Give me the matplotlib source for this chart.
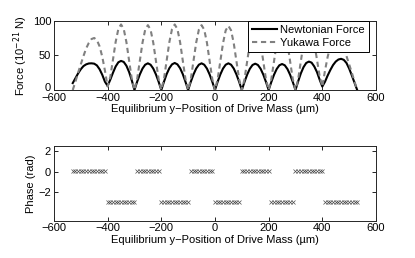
import matplotlib
matplotlib.use("Agg")
import matplotlib.pyplot as plt
import matplotlib.transforms as mtransforms

plt.rcParams["font.family"] = ["Liberation Sans", "DejaVu Sans"]
plt.rcParams["font.size"] = 8

# equilibrium y-position of drive mass (um), 10 um steps
y_pos = list(range(-530, 531, 10))

# Newtonian force (1e-21 N)
newton = [
    10, 17, 24, 30, 34.5, 37, 38.3, 38.5, 38, 35.5, 30, 22, 12, 6,
    15, 25, 34, 40, 42, 40.5, 35, 26, 14, 0,
    12, 22.5, 31, 36.5, 38.5, 36.5, 31, 22.5, 12, 0,
    12, 23, 31.5, 37, 39, 37, 31.5, 23, 12, 0,
    12, 22.5, 31, 36.5, 38.5, 36.5, 31, 22.5, 12, 0,
    12, 22.5, 31, 36.5, 38.5, 36.5, 31, 22.5, 12, 0,
    11.7, 22.3, 30.7, 36.1, 38, 36.1, 30.7, 22.3, 11.7, 0,
    11.6, 22, 30.3, 35.7, 37.5, 35.7, 30.3, 22, 11.6, 0,
    12.5, 24, 33, 39, 41, 39.5, 34, 26, 15, 5,
    12, 21, 29, 36, 41, 44, 45, 43.5, 39, 31, 21, 10.5, 0,
]

# Yukawa force (1e-21 N)
yukawa = [
    0, 12, 25, 37, 49, 60, 68, 73.5, 75, 72, 63, 48, 28, 5,
    19, 44, 69.5, 88, 94.5, 88, 69, 42.5, 16, 0,
    15.9, 42.1, 68.3, 87, 93.5, 87, 68.3, 42.1, 15.9, 0,
    16.1, 42.5, 69, 87.9, 94.5, 87.9, 69, 42.5, 16.1, 0,
    15.9, 42.1, 68.3, 87, 93.5, 87, 68.3, 42.1, 15.9, 0,
    15.7, 41.6, 67.5, 86, 92.5, 86, 67.5, 41.6, 15.7, 0,
    15.6, 41.4, 67.2, 85.6, 92, 85.6, 67.2, 41.4, 15.6, 0,
    15.6, 41.4, 67.2, 85.6, 92, 85.6, 67.2, 41.4, 15.6, 0,
    15.6, 41.4, 67.2, 85.6, 92, 85.6, 67.5, 44, 20, 5,
    28, 48, 63, 72, 75, 73.5, 68, 60, 49, 37, 25, 12, 0,
]

# phase (rad)
phase = [
    0.1, 0.1, 0.1, 0.1, 0.1, 0.1, 0.1, 0.1, 0.1, 0.1, 0.1, 0.1, 0.1,
    -2.95, -2.95, -2.95, -2.95, -2.95, -2.95, -2.95, -2.95, -2.95, -2.95, -2.95,
    0.1, 0.1, 0.1, 0.1, 0.1, 0.1, 0.1, 0.1, 0.1,
    -2.95, -2.95, -2.95, -2.95, -2.95, -2.95, -2.95, -2.95, -2.95, -2.95, -2.95,
    0.1, 0.1, 0.1, 0.1, 0.1, 0.1, 0.1, 0.1, 0.1,
    -2.95, -2.95, -2.95, -2.95, -2.95, -2.95, -2.95, -2.95, -2.95, -2.95,
    0.1, 0.1, 0.1, 0.1, 0.1, 0.1, 0.1, 0.1, 0.1, 0.1, 0.1,
    -2.95, -2.95, -2.95, -2.95, -2.95, -2.95, -2.95, -2.95, -2.95,
    0.1, 0.1, 0.1, 0.1, 0.1, 0.1, 0.1, 0.1, 0.1, 0.1, 0.1,
    -2.95, -2.95, -2.95, -2.95, -2.95, -2.95, -2.95, -2.95, -2.95, -2.95, -2.95, -2.95, -2.95,
]

xlabel = "Equilibrium y\u2212Position of Drive Mass (\u00b5m)"


def style(ax):
    ax.set_xlim(-600, 600)
    ax.set_xticks([-600, -400, -200, 0, 200, 400, 600])
    ax.tick_params(direction="in", top=True, right=True, length=3, width=0.6, pad=2)
    for s in ax.spines.values():
        s.set_linewidth(0.7)
        s.set_color("0.15")
    ax.set_xlabel(xlabel, labelpad=1)


fig = plt.figure(figsize=(4.15, 2.58), dpi=100)
ax1 = fig.add_axes([0.130, 0.651, 0.776, 0.269])
ax2 = fig.add_axes([0.130, 0.145, 0.776, 0.289])

ax1.plot(y_pos, newton, color="black", lw=1.5, label="Newtonian Force")
ax1.plot(y_pos, yukawa, color="0.5", lw=1.5, ls=(0, (2.5, 1.8)), label="Yukawa Force")
ax1.set_ylim(0, 100)
ax1.set_yticks([0, 50, 100])
ax1.set_ylabel("Force (10$^{-21}$ N)", labelpad=2)
style(ax1)
leg = ax1.legend(loc="upper right", fancybox=False, edgecolor="black", framealpha=1,
                 borderpad=0.35, handlelength=2.2, handletextpad=0.35, labelspacing=0.25,
                 borderaxespad=0.0, bbox_to_anchor=(0.978, 0.995), fontsize=8)
leg.get_frame().set_linewidth(0.7)

# MATLAB puts the bottom y label a little above the x tick labels
lift = mtransforms.ScaledTranslation(0, 2 / 72, fig.dpi_scale_trans)
ax1.get_yticklabels()[0].set_transform(ax1.get_yticklabels()[0].get_transform() + lift)

ax2.plot(y_pos, phase, ls="none", marker="x", ms=2.5, mew=0.5, color="0.3")
ax2.set_ylim(-4.75, 2.5)
ax2.set_yticks([-2, 0, 2])
ax2.set_ylabel("Phase (rad)", labelpad=2)
style(ax2)

fig.savefig("out.png", dpi=100)
